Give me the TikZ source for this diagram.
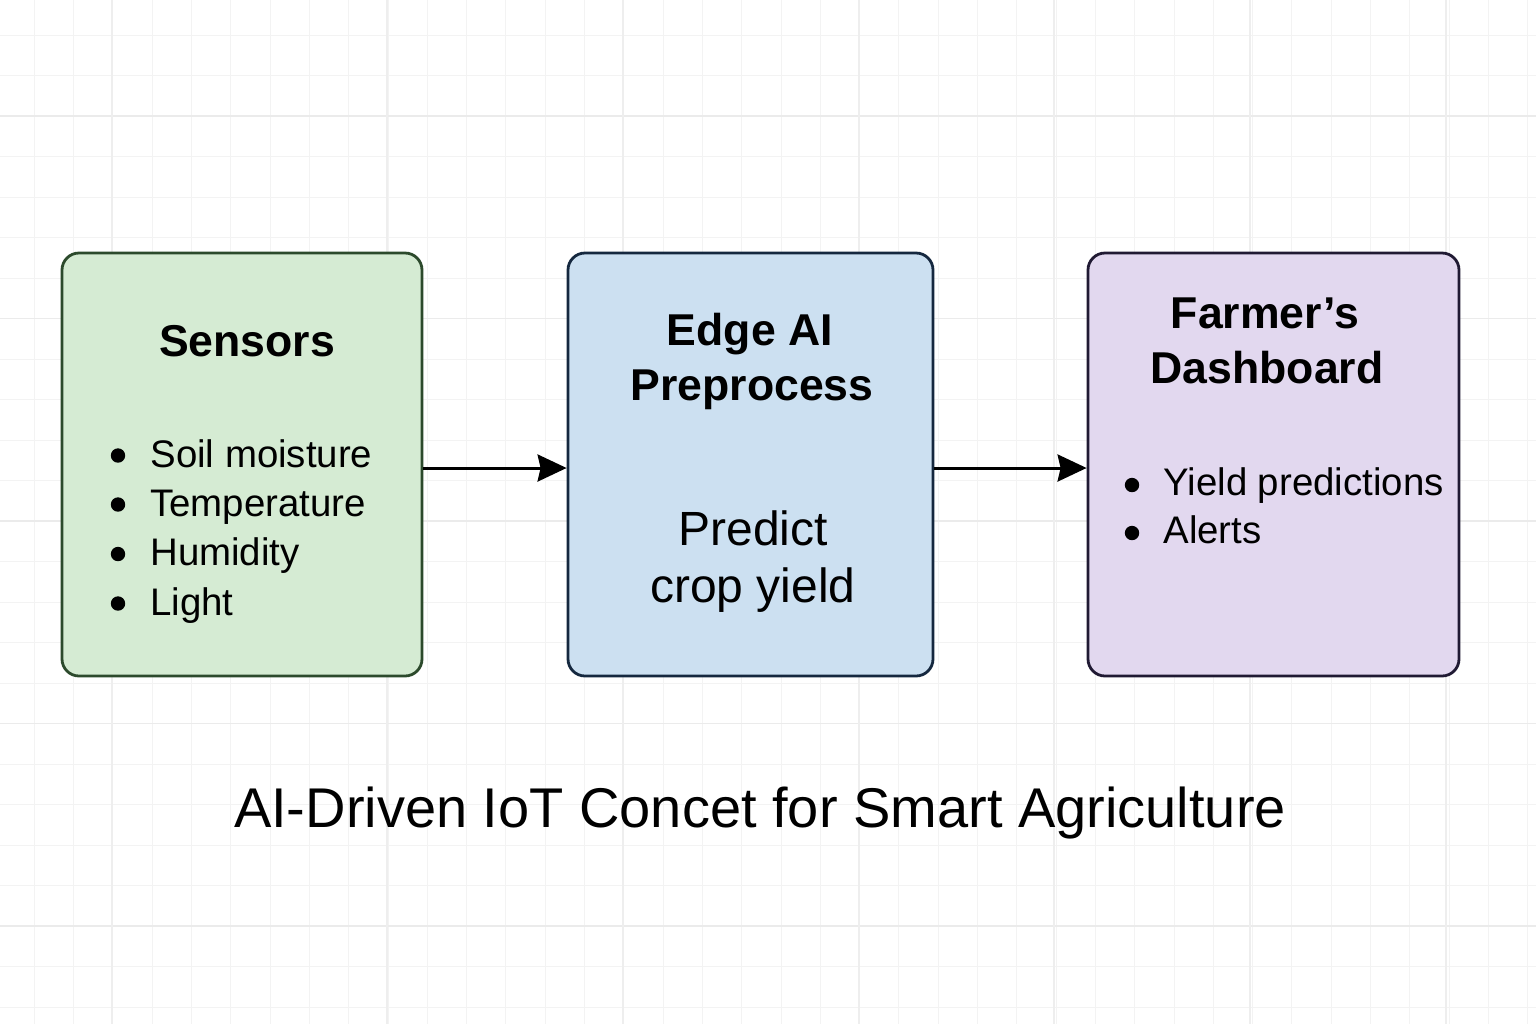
\documentclass[tikz,border=0pt]{standalone}
\usepackage{fontspec}
\setmainfont{Liberation Sans}
\usetikzlibrary{arrows.meta,calc}
\definecolor{gridminor}{HTML}{F3F3F3}
\definecolor{gridmajor}{HTML}{EBEBEB}
\definecolor{gridvmajor}{HTML}{EEEEEE}
\definecolor{sensfill}{HTML}{D5EBD3}
\definecolor{sensdraw}{HTML}{2C4A2C}
\definecolor{edgefill}{HTML}{CCE0F1}
\definecolor{edgedraw}{HTML}{15283F}
\definecolor{dashfill}{HTML}{E2D8EF}
\definecolor{dashdraw}{HTML}{201A33}
\tikzset{
  panel/.style={draw, line width=1.4pt, rounded corners=8.5pt, minimum height=211.5pt, inner sep=0pt},
  heading/.style={anchor=base, inner sep=0pt, font=\fontsize{22.3pt}{27pt}\selectfont\bfseries},
  item/.style={anchor=base west, inner sep=0pt, font=\fontsize{19.2pt}{23pt}\selectfont},
  bodytext/.style={anchor=base, inner sep=0pt, font=\fontsize{24pt}{29pt}\selectfont},
  bulletdot/.style={circle, fill=black, inner sep=0pt, minimum size=7.2pt},
  flow/.style={draw=black, line width=1.5pt, -{Stealth[length=14.5pt,width=13.5pt,inset=1.5pt]}},
  titletext/.style={anchor=base, inner sep=0pt, font=\fontsize{28pt}{34pt}\selectfont}
}
\begin{document}
\begin{tikzpicture}[x=0.5pt,y=-0.5pt]
\useasboundingbox (0,0) rectangle (1536,1024);
\fill[white] (0,0) rectangle (1536,1024);
% grid
\foreach \k in {0,...,38} {
  \draw[gridminor, line width=0.5pt] ({34.3+39.3*\k},0) -- ({34.3+39.3*\k},1024);
}
\foreach \k in {0,...,24} {
  \draw[gridminor, line width=0.5pt] (0,{35+40.5*\k}) -- (1536,{35+40.5*\k});
}
\foreach \k in {2,7,12,17,22} {
  \draw[gridmajor, line width=0.9pt] (0,{35+40.5*\k}) -- (1536,{35+40.5*\k});
}
\foreach \xx in {112,387,623,859,1054,1250,1446} {
  \draw[gridvmajor, line width=0.6pt] (\xx,0) -- (\xx,1024);
}
% panels
\node[panel, fill=sensfill, draw=sensdraw, minimum width=180pt] (sensors) at (242,464.5) {};
\node[panel, fill=edgefill, draw=edgedraw, minimum width=182.5pt] (edge) at (750.5,464.5) {};
\node[panel, fill=dashfill, draw=dashdraw, minimum width=185.5pt] (dash) at (1273.5,464.5) {};
% sensors text
\node[heading] (sensh) at (247,356) {Sensors};
\node[bulletdot] (sb1) at (118,455.5) {};
\node[bulletdot] (sb2) at (118,504.5) {};
\node[bulletdot] (sb3) at (118,554) {};
\node[bulletdot] (sb4) at (118,603.5) {};
\node[item] (si1) at (150,467) {Soil moisture};
\node[item] (si2) at (150,516) {Temperature};
\node[item] (si3) at (150,565.5) {Humidity};
\node[item] (si4) at (150,615) {Light};
% edge text
\node[heading] (edgeh1) at (750,345) {Edge AI};
\node[heading] (edgeh2) at (752,400) {Preprocess};
\node[bodytext] (edgeb1) at (753,545) {Predict};
\node[bodytext] (edgeb2) at (753,602) {crop yield};
% dashboard text
\node[heading] (dashh1) at (1265,328) {Farmer’s};
\node[heading] (dashh2) at (1267,383) {Dashboard};
\node[bulletdot] (db1) at (1132,485) {};
\node[bulletdot] (db2) at (1132,533) {};
\node[item] (di1) at (1163,495) {Yield predictions};
\node[item] (di2) at (1163,543) {Alerts};
% arrows
\draw[flow] ($(sensors.east)+(0,3.5)$) -- ($(edge.west)+(0,3.5)$);
\draw[flow] ($(edge.east)+(0,3.5)$) -- ($(dash.west)+(0,3.5)$);
% title
\node[titletext] (title) at (760,827) {AI-Driven IoT Concet for Smart Agriculture};
\end{tikzpicture}
\end{document}
